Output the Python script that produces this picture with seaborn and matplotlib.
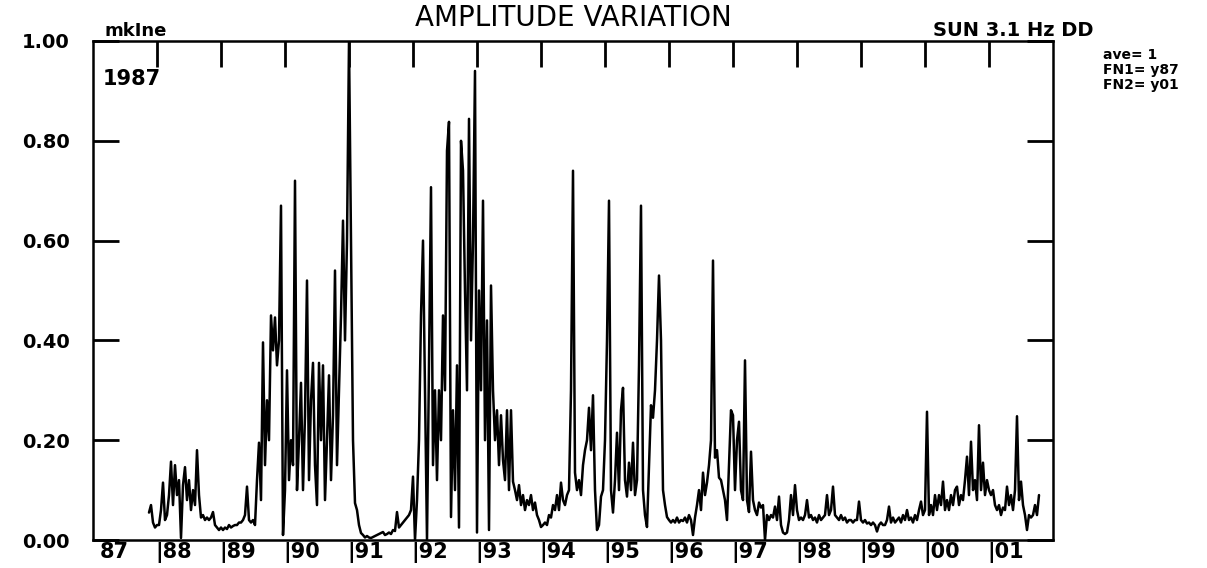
import numpy as np
import pandas as pd
import seaborn as sns
import matplotlib
matplotlib.use("Agg")
import matplotlib.pyplot as plt

# amplitude readings, 32 samples per year (first year starts late)
first_sample = 28  # record begins at 1987 + 28/32
amp_1987 = [0.055, 0.07, 0.035, 0.025]
amp_1988 = [0.03, 0.03, 0.06, 0.115, 0.04, 0.05, 0.09, 0.157,
            0.07, 0.15, 0.09, 0.12, 0.004, 0.11, 0.146, 0.08,
            0.12, 0.06, 0.10, 0.07, 0.18, 0.09, 0.045, 0.05,
            0.04, 0.045, 0.04, 0.045, 0.056, 0.03, 0.025, 0.02]
amp_1989 = [0.025, 0.02, 0.025, 0.022, 0.03, 0.025, 0.028, 0.03,
            0.03, 0.035, 0.035, 0.04, 0.05, 0.107, 0.04, 0.035,
            0.04, 0.03, 0.12, 0.195, 0.08, 0.396, 0.15, 0.28,
            0.2, 0.45, 0.38, 0.446, 0.35, 0.4, 0.67, 0.01]
amp_1990 = [0.1, 0.34, 0.12, 0.2, 0.15, 0.72, 0.1, 0.2,
            0.315, 0.1, 0.25, 0.52, 0.12, 0.28, 0.355, 0.15,
            0.07, 0.355, 0.2, 0.35, 0.08, 0.2, 0.33, 0.12,
            0.25, 0.54, 0.15, 0.3, 0.45, 0.64, 0.4, 0.6]
amp_1991 = [1.0, 0.6, 0.2, 0.074, 0.06, 0.03, 0.014, 0.01,
            0.005, 0.008, 0.005, 0.004, 0.006, 0.008, 0.01, 0.012,
            0.014, 0.016, 0.01, 0.012, 0.015, 0.012, 0.02, 0.018,
            0.056, 0.025, 0.03, 0.035, 0.04, 0.045, 0.05, 0.06]
amp_1992 = [0.127, 0.0, 0.08, 0.2, 0.45, 0.6, 0.3, 0.0,
            0.35, 0.707, 0.15, 0.3, 0.12, 0.3, 0.2, 0.45,
            0.3, 0.78, 0.838, 0.046, 0.26, 0.1, 0.35, 0.025,
            0.8, 0.74, 0.5, 0.3, 0.844, 0.4, 0.6, 0.94]
amp_1993 = [0.015, 0.5, 0.3, 0.68, 0.2, 0.44, 0.02, 0.51,
            0.3, 0.2, 0.26, 0.15, 0.25, 0.16, 0.12, 0.26,
            0.1, 0.26, 0.117, 0.1, 0.08, 0.11, 0.07, 0.09,
            0.06, 0.08, 0.07, 0.09, 0.06, 0.075, 0.05, 0.04]
amp_1994 = [0.026, 0.03, 0.035, 0.03, 0.05, 0.045, 0.07, 0.06,
            0.09, 0.06, 0.115, 0.08, 0.07, 0.09, 0.1, 0.3,
            0.74, 0.135, 0.1, 0.12, 0.09, 0.15, 0.18, 0.2,
            0.265, 0.18, 0.29, 0.1, 0.02, 0.03, 0.087, 0.1]
amp_1995 = [0.2, 0.4, 0.68, 0.1, 0.055, 0.12, 0.215, 0.1,
            0.26, 0.305, 0.12, 0.087, 0.155, 0.1, 0.195, 0.09,
            0.12, 0.35, 0.67, 0.1, 0.05, 0.026, 0.15, 0.27,
            0.245, 0.3, 0.4, 0.53, 0.4, 0.1, 0.07, 0.046]
amp_1996 = [0.04, 0.035, 0.04, 0.035, 0.045, 0.035, 0.04, 0.038,
            0.045, 0.035, 0.05, 0.04, 0.01, 0.045, 0.07, 0.1,
            0.06, 0.135, 0.09, 0.115, 0.15, 0.2, 0.56, 0.165,
            0.18, 0.125, 0.12, 0.1, 0.08, 0.04, 0.15, 0.26]
amp_1997 = [0.25, 0.1, 0.2, 0.237, 0.1, 0.08, 0.36, 0.08,
            0.056, 0.177, 0.08, 0.06, 0.05, 0.075, 0.065, 0.07,
            0.0, 0.05, 0.04, 0.05, 0.045, 0.067, 0.04, 0.087,
            0.03, 0.015, 0.012, 0.015, 0.04, 0.09, 0.05, 0.11]
amp_1998 = [0.06, 0.04, 0.045, 0.04, 0.05, 0.08, 0.045, 0.05,
            0.04, 0.045, 0.035, 0.05, 0.04, 0.045, 0.05, 0.09,
            0.05, 0.06, 0.107, 0.05, 0.045, 0.04, 0.05, 0.04,
            0.045, 0.035, 0.04, 0.04, 0.035, 0.04, 0.04, 0.077]
amp_1999 = [0.04, 0.035, 0.04, 0.033, 0.035, 0.03, 0.035, 0.03,
            0.017, 0.03, 0.035, 0.03, 0.03, 0.04, 0.067, 0.035,
            0.045, 0.035, 0.04, 0.045, 0.035, 0.05, 0.04, 0.06,
            0.04, 0.045, 0.035, 0.05, 0.04, 0.06, 0.077, 0.05]
amp_2000 = [0.06, 0.257, 0.05, 0.07, 0.05, 0.09, 0.06, 0.09,
            0.07, 0.117, 0.06, 0.08, 0.06, 0.09, 0.07, 0.1,
            0.107, 0.07, 0.09, 0.08, 0.12, 0.167, 0.09, 0.197,
            0.1, 0.12, 0.08, 0.23, 0.1, 0.155, 0.09, 0.12]
amp_2001 = [0.1, 0.09, 0.1, 0.07, 0.06, 0.07, 0.05, 0.065,
            0.06, 0.107, 0.07, 0.09, 0.06, 0.1, 0.248, 0.08,
            0.117, 0.07, 0.05, 0.02, 0.05, 0.045, 0.05, 0.07,
            0.05, 0.09]

years = list(range(1987, 2002))
yearly = [amp_1987, amp_1988, amp_1989, amp_1990, amp_1991, amp_1992,
          amp_1993, amp_1994, amp_1995, amp_1996, amp_1997, amp_1998,
          amp_1999, amp_2000, amp_2001]
year_labels = ["87", "|88", "|89", "|90", "|91", "|92", "|93", "|94",
               "|95", "|96", "|97", "|98", "|99", "|00", "|01"]
y_ticks = [0.0, 0.2, 0.4, 0.6, 0.8, 1.0]

rows = []
for yr, vals in zip(years, yearly):
    k0 = first_sample if yr == 1987 else 0
    for k, v in enumerate(vals):
        rows.append((yr + (k0 + k) / 32.0, v))
df = pd.DataFrame(rows, columns=["time", "amp"])

sns.set_theme(style="white")
plt.rcParams['font.family'] = ['DejaVu Sans']
plt.rcParams['text.color'] = 'black'
plt.rcParams['xtick.color'] = 'black'
plt.rcParams['ytick.color'] = 'black'

fig = plt.figure(figsize=(12.07, 5.68), dpi=100)
ax = fig.add_axes([93 / 1207, 1 - 540 / 568, 960 / 1207, 499 / 568])

sns.lineplot(data=df, x="time", y="amp", color="black", linewidth=1.8,
             estimator=None, sort=False, ax=ax)

ax.set_xlim(1987, 2002)
ax.set_ylim(0, 1.0)
ax.set_xlabel("")
ax.set_ylabel("")

for s in ax.spines.values():
    s.set_color("black")
    s.set_linewidth(1.8)

ax.set_yticks(y_ticks)
ax.set_yticklabels([f"{v:.2f}" for v in y_ticks], fontsize=14,
                   fontweight="bold", color="black")
ax.tick_params(axis="y", which="both", left=True, right=True, direction="in",
               length=19, width=2, color="black", pad=17)

ax.set_xticks(years[1:])
ax.set_xticklabels([])
ax.tick_params(axis="x", which="both", top=True, bottom=False, direction="in",
               length=19, width=2, color="black")

xtrans = ax.get_xaxis_transform()
for yr, lab in zip(years, year_labels):
    xpos = yr + 0.11 if yr == 1987 else yr - 0.02
    ax.text(xpos, -0.004, lab, transform=xtrans, ha="left", va="top",
            fontsize=15, fontweight="bold", color="black")

ax.text(0.0104, 0.924, "1987", transform=ax.transAxes, ha="left",
        va="center", fontsize=15, fontweight="bold", color="black")

fig.text(573 / 1207, 1 - 18 / 568, "AMPLITUDE VARIATION", ha="center",
         va="center", fontsize=20, color="black")
fig.text(105 / 1207, 1 - 31 / 568, "mkIne", ha="left", va="center",
         fontsize=13, fontweight="bold", color="black")
fig.text(933 / 1207, 1 - 30 / 568, "SUN 3.1 Hz DD", ha="left", va="center",
         fontsize=14, fontweight="bold", color="black")
for i, line in enumerate(["ave= 1", "FN1= y87", "FN2= y01"]):
    fig.text(1103 / 1207, 1 - (55 + 15 * i) / 568, line, ha="left",
             va="center", fontsize=10, fontweight="bold", color="black")

fig.savefig("out.png", dpi=100, facecolor="white")
